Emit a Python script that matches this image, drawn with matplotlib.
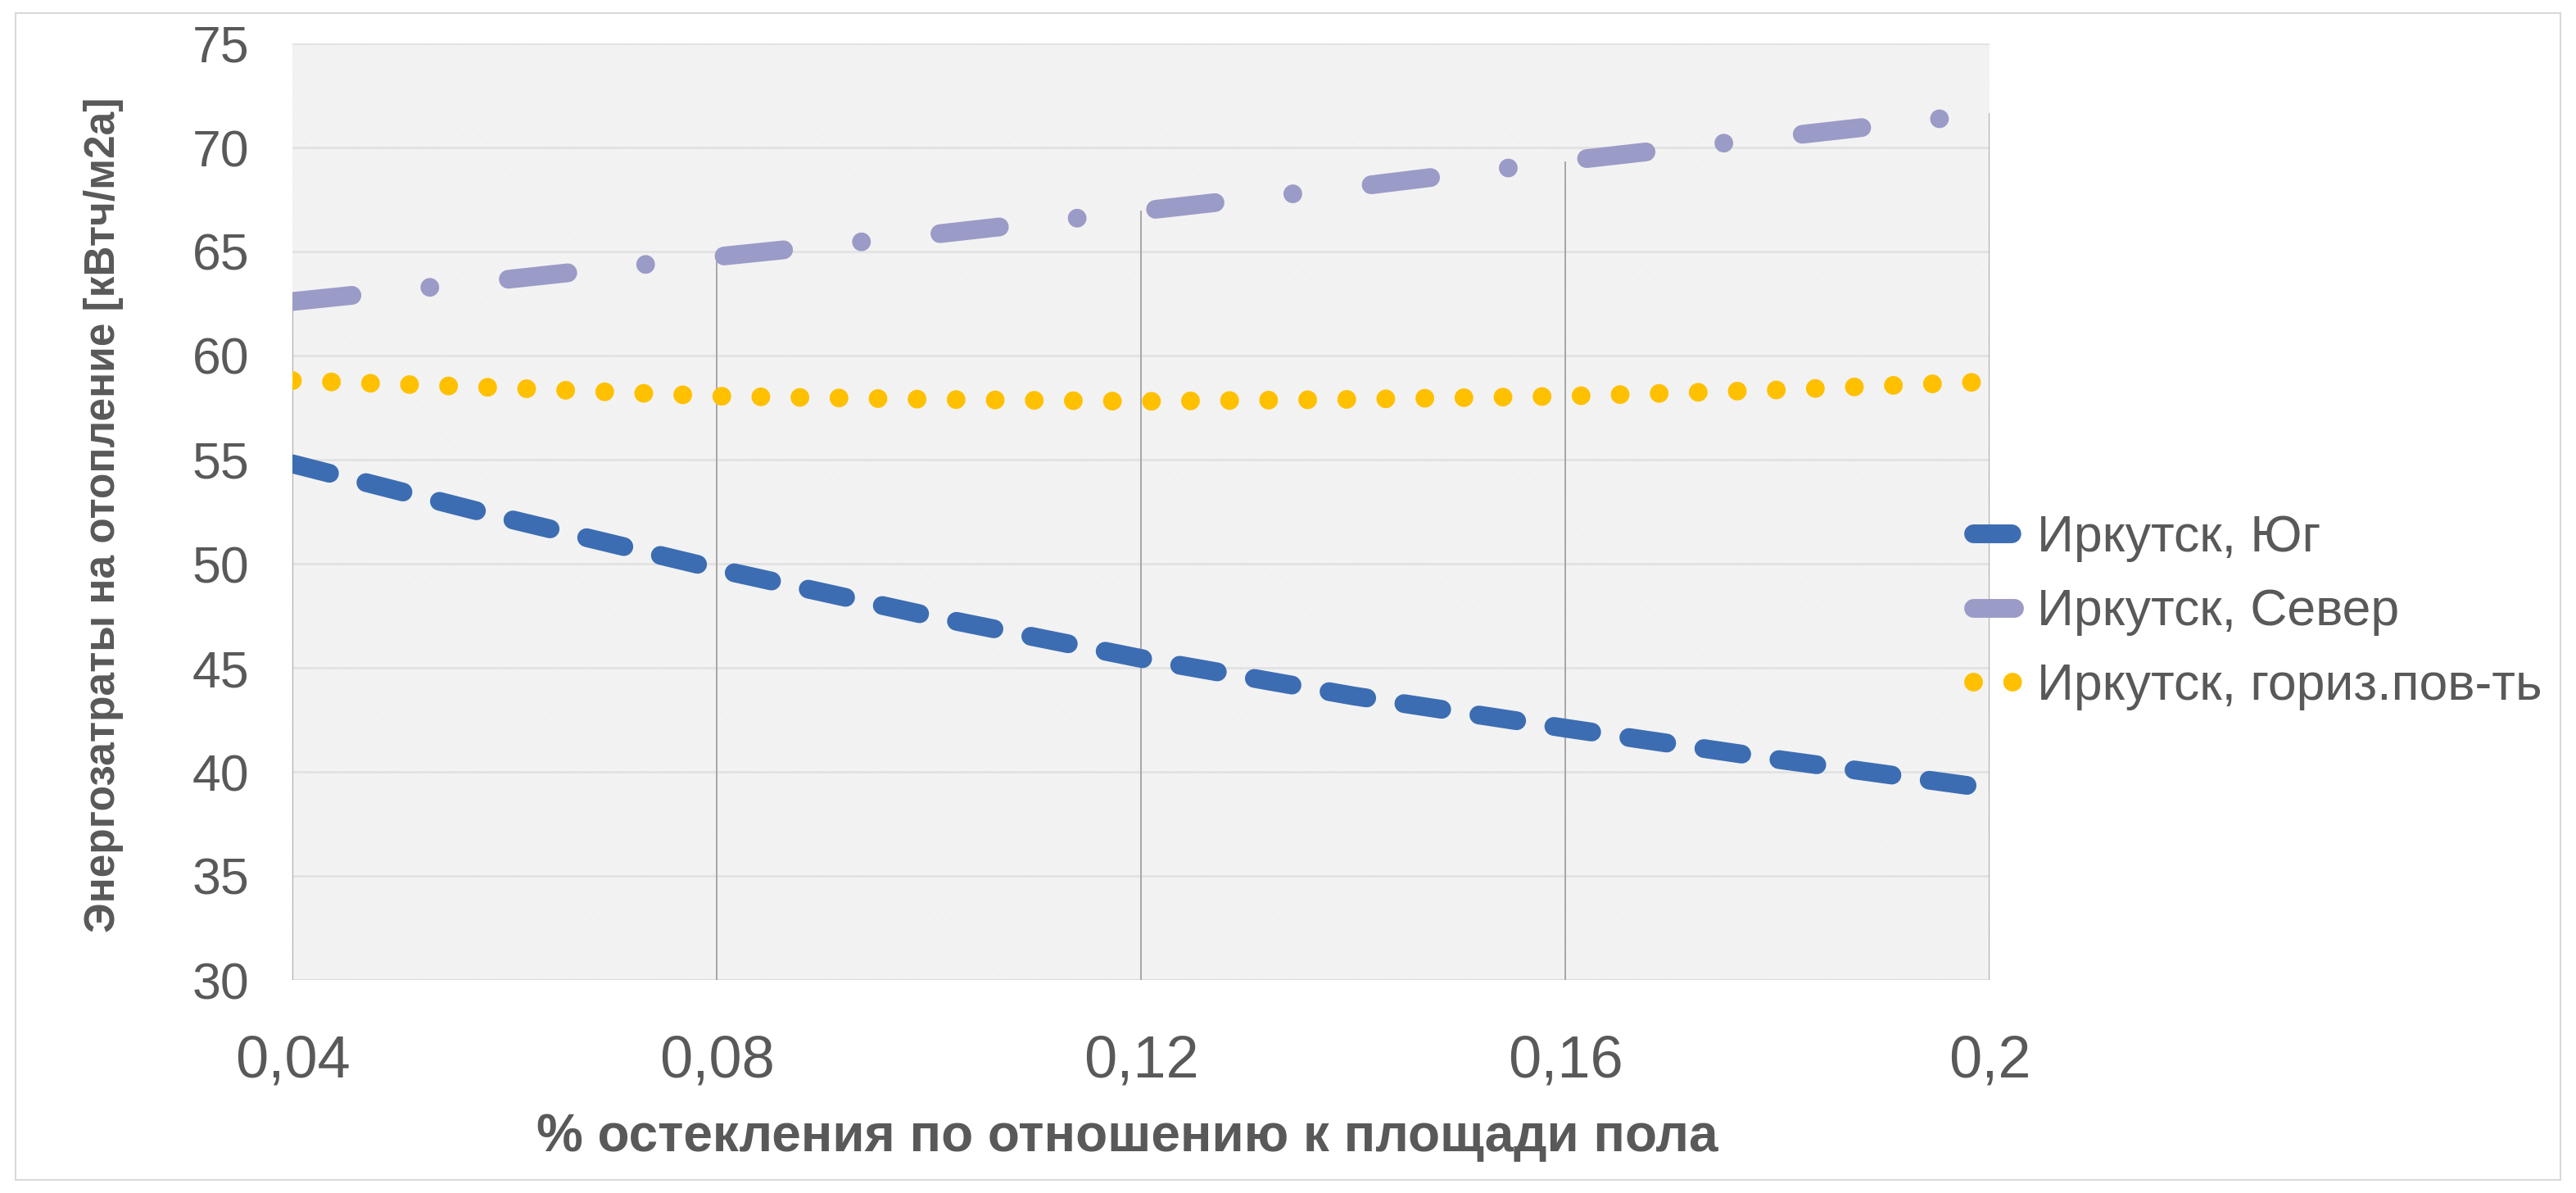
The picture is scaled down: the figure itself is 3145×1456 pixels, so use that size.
import matplotlib
matplotlib.use("Agg")
import matplotlib.pyplot as plt
from matplotlib.patches import Rectangle

# glazing share and heating energy demand, kWh/m2a
glazing = [0.04, 0.06, 0.08, 0.10, 0.12, 0.14, 0.16, 0.18, 0.20]
south = [54.8, 52.2, 49.75, 47.5, 45.45, 43.65, 42.1, 40.6, 39.2]
north = [62.6, 63.65, 64.75, 65.8, 66.95, 68.1, 69.35, 70.5, 71.65]
horizontal = [58.8, 58.45, 58.05, 57.9, 57.8, 57.9, 58.05, 58.35, 58.75]

series_names = ["Иркутск, Юг", "Иркутск, Север", "Иркутск, гориз.пов-ть"]

x_ticks = [0.04, 0.08, 0.12, 0.16, 0.20]
x_tick_labels = ["0,04", "0,08", "0,12", "0,16", "0,2"]
y_ticks = [30, 35, 40, 45, 50, 55, 60, 65, 70, 75]

TEXT = "#595959"
plt.rcParams["font.family"] = ["Liberation Sans", "DejaVu Sans"]
plt.rcParams["hatch.linewidth"] = 0.5
plt.rcParams["hatch.color"] = "#ebebeb"

W, H = 3145, 1456
fig = plt.figure(figsize=(W / 100, H / 100), dpi=100)
fig.patch.set_facecolor("white")

# chart frame
fig.add_artist(Rectangle((19 / W, 16 / H), (3126 - 19) / W, (1440 - 16) / H,
                         transform=fig.transFigure, fill=False,
                         edgecolor="#d9d9d9", linewidth=1.5))

ax = fig.add_axes([357 / W, 260 / H, 2072 / W, 1143 / H])
ax.set_facecolor("#f6f6f6")
ax.add_patch(Rectangle((0, 0), 1, 1, transform=ax.transAxes, facecolor="none",
                       edgecolor="#ebebeb", hatch="\\" * 10, linewidth=0, zorder=0))

ax.set_xlim(0.04, 0.20)
ax.set_ylim(30, 75)

for s in ax.spines.values():
    s.set_visible(False)
ax.axhline(30, color="#d9d9d9", linewidth=2, zorder=1)

ax.set_yticks(y_ticks)
ax.yaxis.grid(True, color="#e2e2e2", linewidth=2)
ax.set_axisbelow(True)
ax.set_xticks(x_ticks)
ax.set_xticklabels(x_tick_labels)
ax.tick_params(axis="x", length=0, pad=48, labelsize=52, labelcolor=TEXT)
ax.tick_params(axis="y", length=0, pad=38, labelsize=45, labelcolor=TEXT)

# drop lines from the upper series down to the axis
ax.vlines(glazing[::2], 30, north[::2], color="#a6a6a6", linewidth=1.4, zorder=2)

lw = 16.5
ax.plot(glazing, south, color="#3c6db3", linewidth=lw, dashes=(2.04, 2.0),
        dash_capstyle="round", label=series_names[0], zorder=3)
ax.plot(glazing, north, color="#9b9bc8", linewidth=lw, dashes=(3.19, 4.17, 0.001, 4.2),
        dash_capstyle="round", label=series_names[1], zorder=3)
ax.plot(glazing, horizontal, color="#ffc000", linewidth=lw, dashes=(0.001, 2.08),
        dash_capstyle="round", label=series_names[2], zorder=3)

fig.legend(loc="center left", bbox_to_anchor=(2409 / W, 1 - 747 / H),
           frameon=False, fontsize=45, labelcolor=TEXT, handlelength=0.8,
           handletextpad=0.45, labelspacing=0.5, borderpad=0, borderaxespad=0)

fig.text(127 / W, 1 - 628 / H, "Энергозатраты на отопление [кВтч/м2а]",
         rotation=90, ha="center", va="center", fontsize=37,
         fontweight="bold", color=TEXT)
fig.text(1376 / W, 1 - 1388 / H, "% остекления по отношению к площади пола",
         ha="center", va="center", fontsize=46, fontweight="bold", color=TEXT)

fig.savefig("out.png", dpi=100)
